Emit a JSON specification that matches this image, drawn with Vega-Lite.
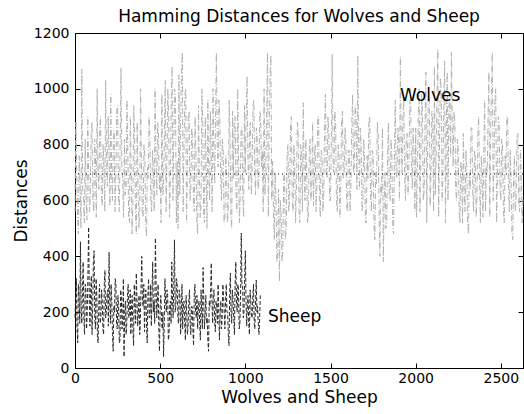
{
  "$schema": "https://vega.github.io/schema/vega-lite/v6.json",
  "width": 448,
  "height": 335,
  "autosize": "none",
  "padding": {"left": 75, "top": 33, "right": 1, "bottom": 46},
  "background": "white",
  "config": {
    "view": {"stroke": "black", "strokeWidth": 1},
    "font": "DejaVu Sans",
    "axis": {"grid": false, "domainColor": "black", "tickColor": "black", "labelColor": "black", "titleColor": "black", "labelFont": "DejaVu Sans", "titleFont": "DejaVu Sans", "labelFontSize": 14, "titleFontSize": 17, "titleFontWeight": "normal", "tickSize": -5, "format": "d"}
  },
  "title": {"text": "Hamming Distances for Wolves and Sheep", "font": "DejaVu Sans", "fontSize": 17, "fontWeight": "normal", "color": "black", "offset": 0},
  "datasets": {
    "wolves": [
      {"x":0,"d":560},{"x":5,"d":880},{"x":10,"d":720},{"x":15,"d":540},{"x":20,"d":480},{"x":25,"d":760},{"x":30,"d":650},{"x":35,"d":500},{"x":40,"d":1070},{"x":45,"d":640},{"x":50,"d":600},{"x":55,"d":520},{"x":60,"d":820},{"x":65,"d":600},{"x":70,"d":530},{"x":75,"d":900},{"x":80,"d":700},{"x":85,"d":560},{"x":90,"d":620},{"x":95,"d":840},
      {"x":100,"d":880},{"x":105,"d":600},{"x":110,"d":560},{"x":115,"d":820},{"x":120,"d":760},{"x":125,"d":540},{"x":130,"d":1000},{"x":135,"d":700},{"x":140,"d":640},{"x":145,"d":860},{"x":150,"d":900},{"x":155,"d":620},{"x":160,"d":580},{"x":165,"d":800},{"x":170,"d":720},{"x":175,"d":560},{"x":180,"d":1030},{"x":185,"d":760},{"x":190,"d":650},{"x":195,"d":900},
      {"x":200,"d":780},{"x":205,"d":580},{"x":210,"d":980},{"x":215,"d":700},{"x":220,"d":600},{"x":225,"d":820},{"x":230,"d":850},{"x":235,"d":560},{"x":240,"d":700},{"x":245,"d":920},{"x":250,"d":940},{"x":255,"d":620},{"x":260,"d":560},{"x":265,"d":800},{"x":270,"d":1075},{"x":275,"d":700},{"x":280,"d":680},{"x":285,"d":540},{"x":290,"d":820},{"x":295,"d":620},
      {"x":300,"d":640},{"x":305,"d":960},{"x":310,"d":780},{"x":315,"d":540},{"x":320,"d":520},{"x":325,"d":900},{"x":330,"d":700},{"x":335,"d":480},{"x":340,"d":600},{"x":345,"d":940},{"x":350,"d":830},{"x":355,"d":560},{"x":360,"d":480},{"x":365,"d":880},{"x":370,"d":660},{"x":375,"d":500},{"x":380,"d":560},{"x":385,"d":1000},{"x":390,"d":740},{"x":395,"d":560},
      {"x":400,"d":540},{"x":405,"d":800},{"x":410,"d":760},{"x":415,"d":520},{"x":420,"d":470},{"x":425,"d":720},{"x":430,"d":680},{"x":435,"d":900},{"x":440,"d":820},{"x":445,"d":600},{"x":450,"d":560},{"x":455,"d":780},{"x":460,"d":720},{"x":465,"d":560},{"x":470,"d":1000},{"x":475,"d":760},{"x":480,"d":620},{"x":485,"d":880},{"x":490,"d":850},{"x":495,"d":640},
      {"x":500,"d":700},{"x":505,"d":520},{"x":510,"d":980},{"x":515,"d":620},{"x":520,"d":640},{"x":525,"d":860},{"x":530,"d":1030},{"x":535,"d":560},{"x":540,"d":760},{"x":545,"d":1000},{"x":550,"d":900},{"x":555,"d":540},{"x":560,"d":680},{"x":565,"d":960},{"x":570,"d":1080},{"x":575,"d":600},{"x":580,"d":820},{"x":585,"d":1000},{"x":590,"d":960},{"x":595,"d":520},
      {"x":600,"d":740},{"x":605,"d":500},{"x":610,"d":1050},{"x":615,"d":620},{"x":620,"d":880},{"x":625,"d":1060},{"x":630,"d":1130},{"x":635,"d":560},{"x":640,"d":800},{"x":645,"d":980},{"x":650,"d":1000},{"x":655,"d":520},{"x":660,"d":720},{"x":665,"d":900},{"x":670,"d":920},{"x":675,"d":600},{"x":680,"d":640},{"x":685,"d":860},{"x":690,"d":820},{"x":695,"d":600},
      {"x":700,"d":560},{"x":705,"d":900},{"x":710,"d":760},{"x":715,"d":520},{"x":720,"d":480},{"x":725,"d":940},{"x":730,"d":700},{"x":735,"d":540},{"x":740,"d":600},{"x":745,"d":1000},{"x":750,"d":880},{"x":755,"d":560},{"x":760,"d":520},{"x":765,"d":900},{"x":770,"d":680},{"x":775,"d":500},{"x":780,"d":960},{"x":785,"d":700},{"x":790,"d":600},{"x":795,"d":920},
      {"x":800,"d":740},{"x":805,"d":560},{"x":810,"d":1000},{"x":815,"d":780},{"x":820,"d":660},{"x":825,"d":900},{"x":830,"d":1130},{"x":835,"d":800},{"x":840,"d":720},{"x":845,"d":960},{"x":850,"d":900},{"x":855,"d":680},{"x":860,"d":600},{"x":865,"d":820},{"x":870,"d":780},{"x":875,"d":520},{"x":880,"d":540},{"x":885,"d":760},{"x":890,"d":700},{"x":895,"d":520},
      {"x":900,"d":580},{"x":905,"d":960},{"x":910,"d":820},{"x":915,"d":540},{"x":920,"d":500},{"x":925,"d":920},{"x":930,"d":680},{"x":935,"d":900},{"x":940,"d":900},{"x":945,"d":640},{"x":950,"d":560},{"x":955,"d":1000},{"x":960,"d":760},{"x":965,"d":520},{"x":970,"d":620},{"x":975,"d":860},{"x":980,"d":860},{"x":985,"d":600},{"x":990,"d":540},{"x":995,"d":940},
      {"x":1000,"d":700},{"x":1005,"d":900},{"x":1010,"d":1045},{"x":1015,"d":760},{"x":1020,"d":640},{"x":1025,"d":860},{"x":1030,"d":880},{"x":1035,"d":620},{"x":1040,"d":720},{"x":1045,"d":940},{"x":1050,"d":960},{"x":1055,"d":700},{"x":1060,"d":620},{"x":1065,"d":860},{"x":1070,"d":820},{"x":1075,"d":640},{"x":1080,"d":700},{"x":1085,"d":920},{"x":1090,"d":900},{"x":1095,"d":720},
      {"x":1100,"d":780},{"x":1105,"d":560},{"x":1110,"d":1000},{"x":1115,"d":620},{"x":1120,"d":700},{"x":1125,"d":900},{"x":1130,"d":1130},{"x":1135,"d":540},{"x":1140,"d":860},{"x":1145,"d":1060},{"x":1150,"d":1120},{"x":1155,"d":600},{"x":1160,"d":740},{"x":1165,"d":560},{"x":1170,"d":460},{"x":1175,"d":700},{"x":1180,"d":600},{"x":1185,"d":380},{"x":1190,"d":420},{"x":1195,"d":640},
      {"x":1200,"d":310},{"x":1205,"d":600},{"x":1210,"d":560},{"x":1215,"d":380},{"x":1220,"d":420},{"x":1225,"d":680},{"x":1230,"d":700},{"x":1235,"d":460},{"x":1240,"d":500},{"x":1245,"d":760},{"x":1250,"d":800},{"x":1255,"d":560},{"x":1260,"d":620},{"x":1265,"d":860},{"x":1270,"d":900},{"x":1275,"d":600},{"x":1280,"d":560},{"x":1285,"d":800},{"x":1290,"d":740},{"x":1295,"d":520},
      {"x":1300,"d":640},{"x":1305,"d":880},{"x":1310,"d":860},{"x":1315,"d":560},{"x":1320,"d":520},{"x":1325,"d":800},{"x":1330,"d":760},{"x":1335,"d":560},{"x":1340,"d":950},{"x":1345,"d":700},{"x":1350,"d":600},{"x":1355,"d":820},{"x":1360,"d":720},{"x":1365,"d":520},{"x":1370,"d":540},{"x":1375,"d":780},{"x":1380,"d":820},{"x":1385,"d":600},{"x":1390,"d":660},{"x":1395,"d":880},
      {"x":1400,"d":580},{"x":1405,"d":760},{"x":1410,"d":800},{"x":1415,"d":560},{"x":1420,"d":660},{"x":1425,"d":900},{"x":1430,"d":900},{"x":1435,"d":620},{"x":1440,"d":540},{"x":1445,"d":780},{"x":1450,"d":760},{"x":1455,"d":560},{"x":1460,"d":620},{"x":1465,"d":860},{"x":1470,"d":980},{"x":1475,"d":700},{"x":1480,"d":680},{"x":1485,"d":900},{"x":1490,"d":840},{"x":1495,"d":600},
      {"x":1500,"d":600},{"x":1505,"d":820},{"x":1510,"d":1125},{"x":1515,"d":740},{"x":1520,"d":700},{"x":1525,"d":920},{"x":1530,"d":880},{"x":1535,"d":600},{"x":1540,"d":560},{"x":1545,"d":800},{"x":1550,"d":760},{"x":1555,"d":540},{"x":1560,"d":640},{"x":1565,"d":880},{"x":1570,"d":920},{"x":1575,"d":680},{"x":1580,"d":700},{"x":1585,"d":860},{"x":1590,"d":820},{"x":1595,"d":580},
      {"x":1600,"d":560},{"x":1605,"d":780},{"x":1610,"d":780},{"x":1615,"d":560},{"x":1620,"d":660},{"x":1625,"d":880},{"x":1630,"d":980},{"x":1635,"d":700},{"x":1640,"d":720},{"x":1645,"d":940},{"x":1650,"d":880},{"x":1655,"d":640},{"x":1660,"d":1120},{"x":1665,"d":800},{"x":1670,"d":640},{"x":1675,"d":860},{"x":1680,"d":800},{"x":1685,"d":560},{"x":1690,"d":600},{"x":1695,"d":820},
      {"x":1700,"d":740},{"x":1705,"d":520},{"x":1710,"d":520},{"x":1715,"d":760},{"x":1720,"d":680},{"x":1725,"d":880},{"x":1730,"d":900},{"x":1735,"d":620},{"x":1740,"d":560},{"x":1745,"d":780},{"x":1750,"d":760},{"x":1755,"d":520},{"x":1760,"d":460},{"x":1765,"d":700},{"x":1770,"d":660},{"x":1775,"d":880},{"x":1780,"d":840},{"x":1785,"d":560},{"x":1790,"d":400},{"x":1795,"d":660},
      {"x":1800,"d":620},{"x":1805,"d":860},{"x":1810,"d":380},{"x":1815,"d":600},{"x":1820,"d":700},{"x":1825,"d":500},{"x":1830,"d":520},{"x":1835,"d":760},{"x":1840,"d":880},{"x":1845,"d":620},{"x":1850,"d":600},{"x":1855,"d":820},{"x":1860,"d":760},{"x":1865,"d":520},{"x":1870,"d":480},{"x":1875,"d":740},{"x":1880,"d":960},{"x":1885,"d":700},{"x":1890,"d":680},{"x":1895,"d":860},
      {"x":1900,"d":820},{"x":1905,"d":600},{"x":1910,"d":1115},{"x":1915,"d":820},{"x":1920,"d":700},{"x":1925,"d":900},{"x":1930,"d":960},{"x":1935,"d":700},{"x":1940,"d":600},{"x":1945,"d":820},{"x":1950,"d":840},{"x":1955,"d":620},{"x":1960,"d":720},{"x":1965,"d":940},{"x":1970,"d":1000},{"x":1975,"d":740},{"x":1980,"d":640},{"x":1985,"d":860},{"x":1990,"d":780},{"x":1995,"d":560},
      {"x":2000,"d":860},{"x":2005,"d":540},{"x":2010,"d":680},{"x":2015,"d":900},{"x":2020,"d":1000},{"x":2025,"d":560},{"x":2030,"d":760},{"x":2035,"d":980},{"x":2040,"d":920},{"x":2045,"d":600},{"x":2050,"d":640},{"x":2055,"d":880},{"x":2060,"d":1060},{"x":2065,"d":520},{"x":2070,"d":800},{"x":2075,"d":1000},{"x":2080,"d":960},{"x":2085,"d":580},{"x":2090,"d":700},{"x":2095,"d":920},
      {"x":2100,"d":880},{"x":2105,"d":560},{"x":2110,"d":1080},{"x":2115,"d":620},{"x":2120,"d":760},{"x":2125,"d":980},{"x":2130,"d":1140},{"x":2135,"d":540},{"x":2140,"d":820},{"x":2145,"d":1040},{"x":2150,"d":1000},{"x":2155,"d":600},{"x":2160,"d":700},{"x":2165,"d":940},{"x":2170,"d":1100},{"x":2175,"d":520},{"x":2180,"d":880},{"x":2185,"d":1060},{"x":2190,"d":600},{"x":2195,"d":940},
      {"x":2200,"d":960},{"x":2205,"d":760},{"x":2210,"d":1130},{"x":2215,"d":860},{"x":2220,"d":720},{"x":2225,"d":920},{"x":2230,"d":880},{"x":2235,"d":640},{"x":2240,"d":600},{"x":2245,"d":820},{"x":2250,"d":780},{"x":2255,"d":560},{"x":2260,"d":520},{"x":2265,"d":740},{"x":2270,"d":700},{"x":2275,"d":520},{"x":2280,"d":840},{"x":2285,"d":620},{"x":2290,"d":560},{"x":2295,"d":780},
      {"x":2300,"d":720},{"x":2305,"d":520},{"x":2310,"d":480},{"x":2315,"d":700},{"x":2320,"d":640},{"x":2325,"d":860},{"x":2330,"d":860},{"x":2335,"d":620},{"x":2340,"d":560},{"x":2345,"d":780},{"x":2350,"d":760},{"x":2355,"d":540},{"x":2360,"d":620},{"x":2365,"d":840},{"x":2370,"d":900},{"x":2375,"d":660},{"x":2380,"d":520},{"x":2385,"d":760},{"x":2390,"d":700},{"x":2395,"d":540},
      {"x":2400,"d":780},{"x":2405,"d":960},{"x":2410,"d":560},{"x":2415,"d":720},{"x":2420,"d":700},{"x":2425,"d":900},{"x":2430,"d":1060},{"x":2435,"d":540},{"x":2440,"d":840},{"x":2445,"d":1000},{"x":2450,"d":1130},{"x":2455,"d":600},{"x":2460,"d":760},{"x":2465,"d":960},{"x":2470,"d":1000},{"x":2475,"d":520},{"x":2480,"d":680},{"x":2485,"d":900},{"x":2490,"d":880},{"x":2495,"d":640},
      {"x":2500,"d":600},{"x":2505,"d":820},{"x":2510,"d":800},{"x":2515,"d":560},{"x":2520,"d":520},{"x":2525,"d":760},{"x":2530,"d":700},{"x":2535,"d":900},{"x":2540,"d":900},{"x":2545,"d":640},{"x":2550,"d":560},{"x":2555,"d":780},{"x":2560,"d":680},{"x":2565,"d":480},{"x":2570,"d":460},{"x":2575,"d":700},{"x":2580,"d":760},{"x":2585,"d":560},{"x":2590,"d":620},{"x":2595,"d":840},
      {"x":2600,"d":840},{"x":2605,"d":600},{"x":2610,"d":560},{"x":2615,"d":780},{"x":2620,"d":700},{"x":2625,"d":520},{"x":2630,"d":620}
    ],
    "sheep": [
      {"x":0,"d":180},{"x":4,"d":260},{"x":8,"d":320},{"x":12,"d":140},{"x":16,"d":90},{"x":20,"d":300},{"x":24,"d":250},{"x":28,"d":160},{"x":32,"d":452},{"x":36,"d":220},{"x":40,"d":160},{"x":44,"d":280},{"x":48,"d":380},{"x":52,"d":180},{"x":56,"d":120},{"x":60,"d":300},{"x":64,"d":280},{"x":68,"d":140},{"x":72,"d":200},{"x":76,"d":340},
      {"x":80,"d":505},{"x":84,"d":240},{"x":88,"d":150},{"x":92,"d":280},{"x":96,"d":330},{"x":100,"d":120},{"x":104,"d":220},{"x":108,"d":380},{"x":112,"d":420},{"x":116,"d":180},{"x":120,"d":140},{"x":124,"d":320},{"x":128,"d":260},{"x":132,"d":100},{"x":136,"d":90},{"x":140,"d":240},{"x":144,"d":300},{"x":148,"d":160},{"x":152,"d":180},{"x":156,"d":280},
      {"x":160,"d":240},{"x":164,"d":140},{"x":168,"d":120},{"x":172,"d":300},{"x":176,"d":350},{"x":180,"d":180},{"x":184,"d":200},{"x":188,"d":260},{"x":192,"d":280},{"x":196,"d":150},{"x":200,"d":415},{"x":204,"d":240},{"x":208,"d":160},{"x":212,"d":300},{"x":216,"d":240},{"x":220,"d":120},{"x":224,"d":60},{"x":228,"d":220},{"x":232,"d":200},{"x":236,"d":320},
      {"x":240,"d":300},{"x":244,"d":160},{"x":248,"d":140},{"x":252,"d":260},{"x":256,"d":220},{"x":260,"d":90},{"x":264,"d":100},{"x":268,"d":280},{"x":272,"d":260},{"x":276,"d":140},{"x":280,"d":180},{"x":284,"d":320},{"x":288,"d":40},{"x":292,"d":200},{"x":296,"d":240},{"x":300,"d":120},{"x":304,"d":160},{"x":308,"d":260},{"x":312,"d":300},{"x":316,"d":180},
      {"x":320,"d":200},{"x":324,"d":280},{"x":328,"d":120},{"x":332,"d":220},{"x":336,"d":260},{"x":340,"d":140},{"x":344,"d":80},{"x":348,"d":300},{"x":352,"d":220},{"x":356,"d":160},{"x":360,"d":340},{"x":364,"d":240},{"x":368,"d":150},{"x":372,"d":200},{"x":376,"d":260},{"x":380,"d":120},{"x":384,"d":180},{"x":388,"d":300},{"x":392,"d":400},{"x":396,"d":240},
      {"x":400,"d":220},{"x":404,"d":300},{"x":408,"d":130},{"x":412,"d":240},{"x":416,"d":280},{"x":420,"d":150},{"x":424,"d":90},{"x":428,"d":260},{"x":432,"d":320},{"x":436,"d":180},{"x":440,"d":200},{"x":444,"d":300},{"x":448,"d":150},{"x":452,"d":260},{"x":456,"d":380},{"x":460,"d":200},{"x":464,"d":240},{"x":468,"d":160},{"x":472,"d":466},{"x":476,"d":300},
      {"x":480,"d":180},{"x":484,"d":240},{"x":488,"d":300},{"x":492,"d":140},{"x":496,"d":60},{"x":500,"d":220},{"x":504,"d":260},{"x":508,"d":180},{"x":512,"d":140},{"x":516,"d":200},{"x":520,"d":40},{"x":524,"d":160},{"x":528,"d":320},{"x":532,"d":240},{"x":536,"d":200},{"x":540,"d":280},{"x":544,"d":260},{"x":548,"d":100},{"x":552,"d":120},{"x":556,"d":220},
      {"x":560,"d":240},{"x":564,"d":160},{"x":568,"d":380},{"x":572,"d":260},{"x":576,"d":180},{"x":580,"d":300},{"x":584,"d":459},{"x":588,"d":200},{"x":592,"d":220},{"x":596,"d":320},{"x":600,"d":300},{"x":604,"d":180},{"x":608,"d":160},{"x":612,"d":280},{"x":616,"d":260},{"x":620,"d":120},{"x":624,"d":200},{"x":628,"d":300},{"x":632,"d":140},{"x":636,"d":220},
      {"x":640,"d":240},{"x":644,"d":160},{"x":648,"d":100},{"x":652,"d":260},{"x":656,"d":200},{"x":660,"d":120},{"x":664,"d":150},{"x":668,"d":240},{"x":672,"d":280},{"x":676,"d":160},{"x":680,"d":120},{"x":684,"d":220},{"x":688,"d":220},{"x":692,"d":140},{"x":696,"d":80},{"x":700,"d":260},{"x":704,"d":300},{"x":708,"d":200},{"x":712,"d":180},{"x":716,"d":260},
      {"x":720,"d":140},{"x":724,"d":220},{"x":728,"d":240},{"x":732,"d":160},{"x":736,"d":100},{"x":740,"d":280},{"x":744,"d":200},{"x":748,"d":140},{"x":752,"d":360},{"x":756,"d":240},{"x":760,"d":140},{"x":764,"d":200},{"x":768,"d":260},{"x":772,"d":160},{"x":776,"d":180},{"x":780,"d":100},{"x":784,"d":60},{"x":788,"d":240},{"x":792,"d":220},{"x":796,"d":280},
      {"x":800,"d":376},{"x":804,"d":240},{"x":808,"d":160},{"x":812,"d":260},{"x":816,"d":280},{"x":820,"d":160},{"x":824,"d":130},{"x":828,"d":240},{"x":832,"d":220},{"x":836,"d":160},{"x":840,"d":300},{"x":844,"d":200},{"x":848,"d":100},{"x":852,"d":200},{"x":856,"d":240},{"x":860,"d":140},{"x":864,"d":180},{"x":868,"d":300},{"x":872,"d":260},{"x":876,"d":200},
      {"x":880,"d":140},{"x":884,"d":240},{"x":888,"d":300},{"x":892,"d":200},{"x":896,"d":200},{"x":900,"d":120},{"x":904,"d":80},{"x":908,"d":260},{"x":912,"d":340},{"x":916,"d":200},{"x":920,"d":160},{"x":924,"d":280},{"x":928,"d":240},{"x":932,"d":180},{"x":936,"d":120},{"x":940,"d":300},{"x":944,"d":380},{"x":948,"d":240},{"x":952,"d":200},{"x":956,"d":300},
      {"x":960,"d":280},{"x":964,"d":140},{"x":968,"d":160},{"x":972,"d":260},{"x":976,"d":483},{"x":980,"d":300},{"x":984,"d":300},{"x":988,"d":180},{"x":992,"d":200},{"x":996,"d":320},{"x":1000,"d":420},{"x":1004,"d":240},{"x":1008,"d":150},{"x":1012,"d":220},{"x":1016,"d":260},{"x":1020,"d":160},{"x":1024,"d":120},{"x":1028,"d":280},{"x":1032,"d":240},{"x":1036,"d":180},
      {"x":1040,"d":180},{"x":1044,"d":260},{"x":1048,"d":300},{"x":1052,"d":160},{"x":1056,"d":140},{"x":1060,"d":240},{"x":1064,"d":315},{"x":1068,"d":200},{"x":1072,"d":220},{"x":1076,"d":160},{"x":1080,"d":120},{"x":1084,"d":180},{"x":1088,"d":260}
    ],
    "labels": [
      {"x":1908,"d":974,"t":"Wolves"},
      {"x":1133,"d":183,"t":"Sheep"}
    ],
    "mean": [{"d":695}]
  },
  "resolve": {"axis": {"x": "independent", "y": "independent"}},
  "layer": [
    {
      "data": {"name": "wolves"},
      "mark": {"type": "line", "color": "#b2b2b2", "strokeWidth": 1, "strokeDash": [6, 2, 1, 2]},
      "encoding": {
        "x": {"field": "x", "type": "quantitative", "scale": {"domain": [0, 2630], "nice": false, "zero": false},
              "axis": {"orient": "bottom", "values": [0, 500, 1000, 1500, 2000, 2500], "title": "Wolves and Sheep", "labelPadding": 8, "titlePadding": 4, "labelFlush": false}},
        "y": {"field": "d", "type": "quantitative", "scale": {"domain": [0, 1200], "nice": false},
              "axis": {"orient": "left", "values": [0, 200, 400, 600, 800, 1000, 1200], "title": "Distances", "labelPadding": 11, "titlePadding": 3, "labelFlush": false}}
      }
    },
    {
      "data": {"name": "sheep"},
      "mark": {"type": "line", "color": "#2a2a2a", "strokeWidth": 1, "strokeDash": [4, 2]},
      "encoding": {
        "x": {"field": "x", "type": "quantitative",
              "axis": {"orient": "top", "values": [0, 500, 1000, 1500, 2000, 2500], "labels": false, "title": null, "domain": false}},
        "y": {"field": "d", "type": "quantitative",
              "axis": {"orient": "right", "values": [0, 200, 400, 600, 800, 1000, 1200], "labels": false, "title": null, "domain": false}}
      }
    },
    {
      "data": {"name": "mean"},
      "mark": {"type": "rule", "color": "black", "strokeWidth": 1, "strokeDash": [1, 3]},
      "encoding": {
        "y": {"field": "d", "type": "quantitative", "axis": null}
      }
    },
    {
      "data": {"name": "labels"},
      "mark": {"type": "text", "align": "left", "baseline": "middle", "font": "DejaVu Sans", "fontSize": 17, "color": "black"},
      "encoding": {
        "x": {"field": "x", "type": "quantitative", "axis": null},
        "y": {"field": "d", "type": "quantitative", "axis": null},
        "text": {"field": "t", "type": "nominal"}
      }
    }
  ]
}
